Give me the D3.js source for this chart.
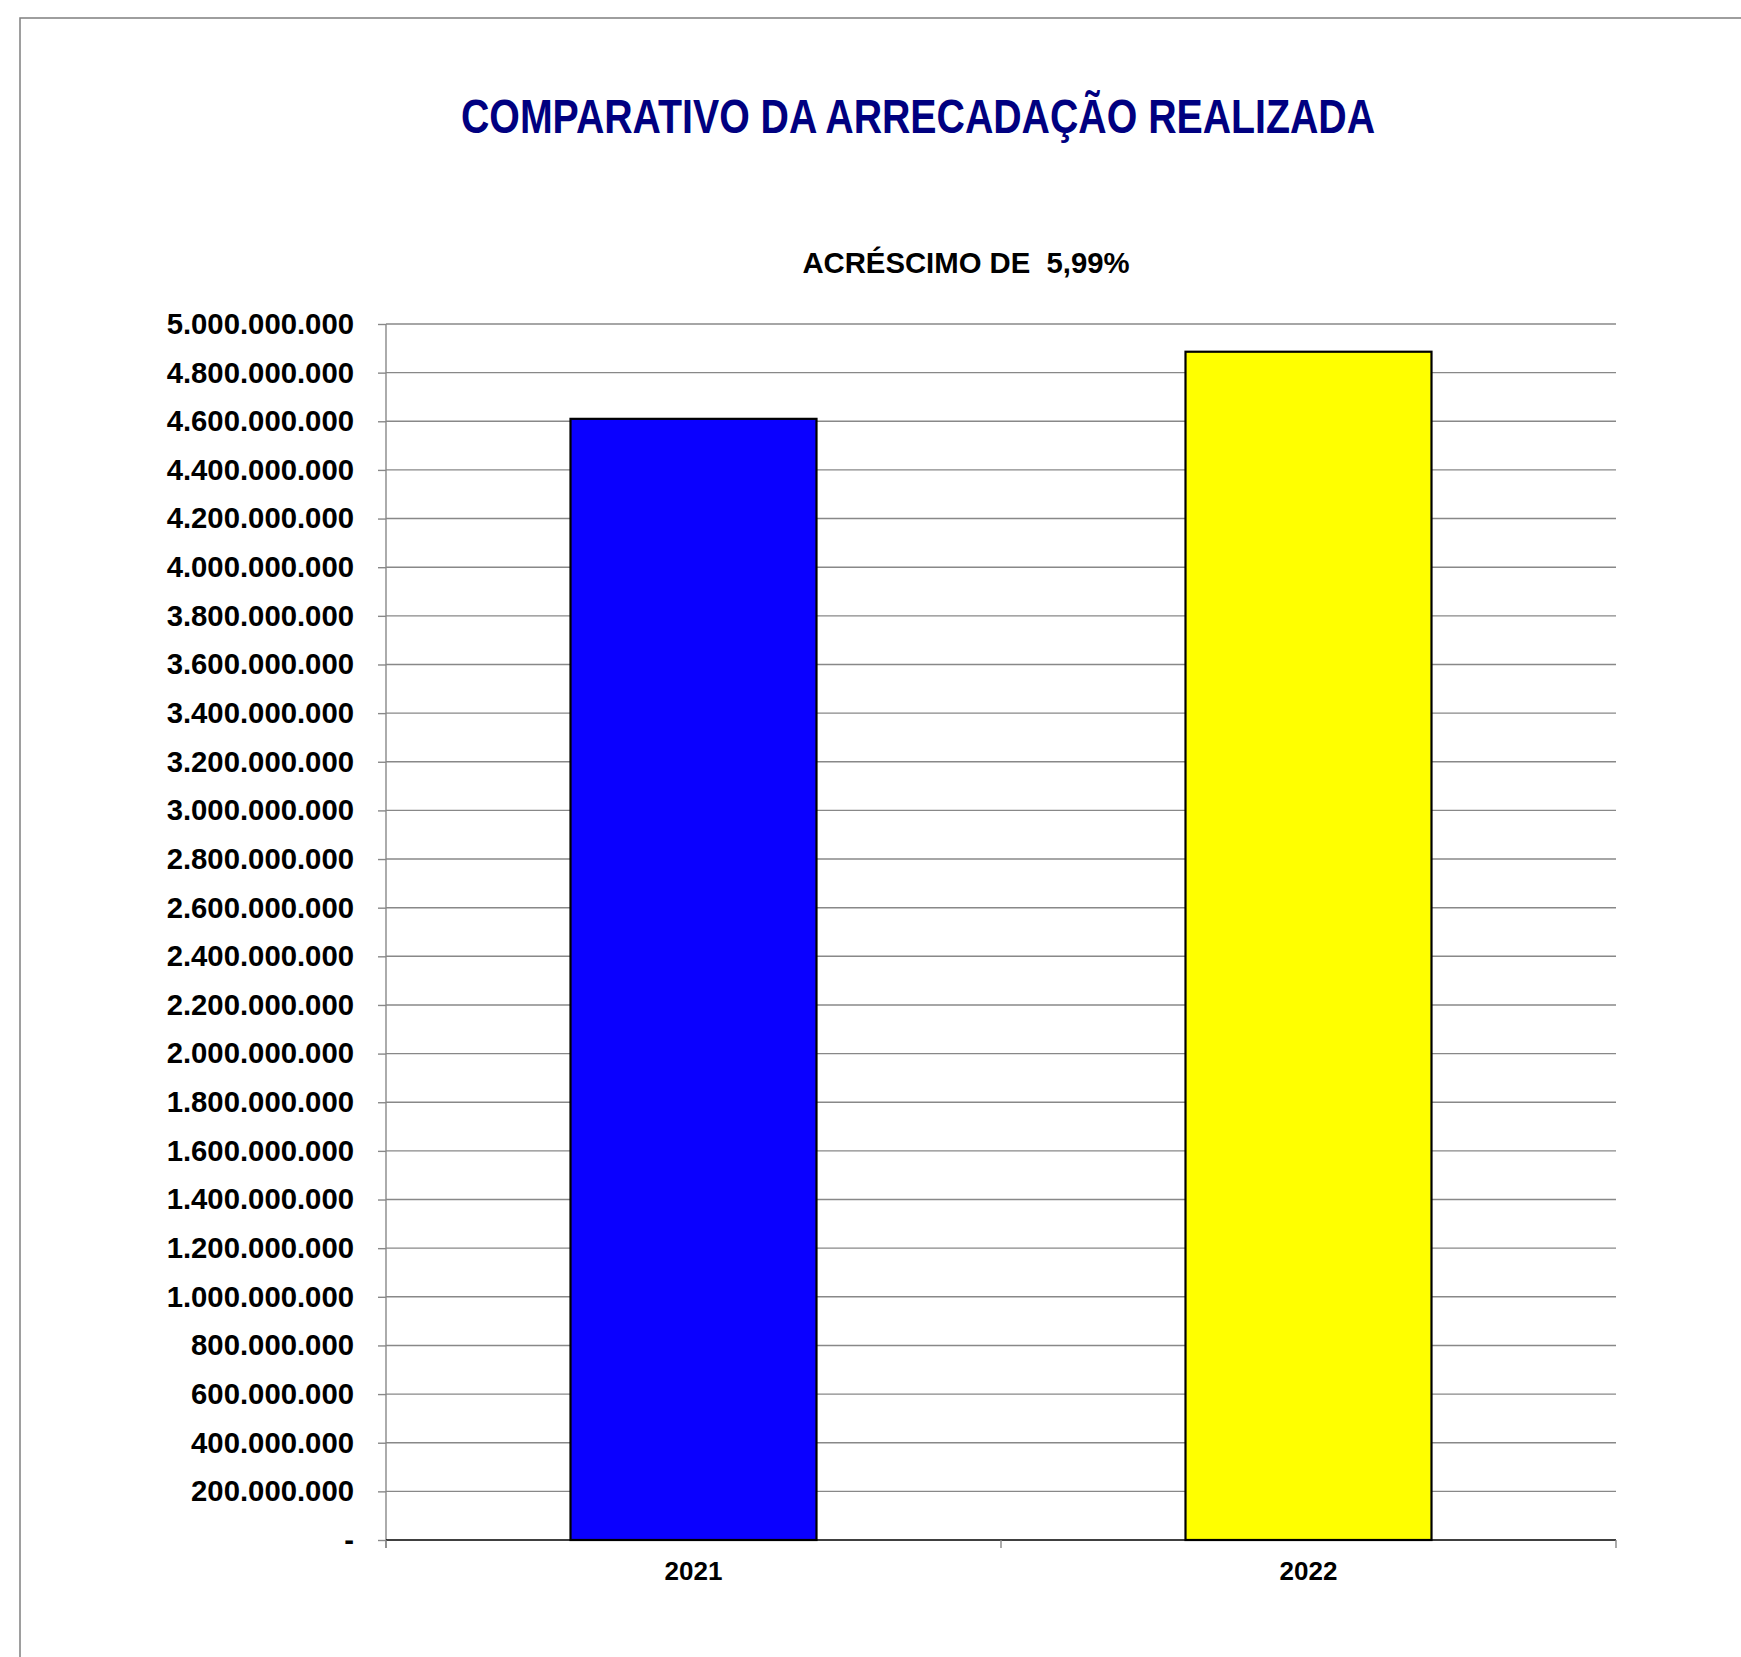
<!DOCTYPE html>
<html><head><meta charset="utf-8">
<script src="https://cdn.jsdelivr.net/npm/d3@7"></script>
<style>
html,body{margin:0;padding:0;background:#fff;}
svg{display:block;}
text{font-family:"Liberation Sans",Arial,sans-serif;font-weight:bold;}
</style></head>
<body>
<svg id="chart" width="1741" height="1657"></svg>
<script>
const categories = ["2021", "2022"];
const values = [4610000000, 4886000000];
const barColors = ["#0a00ff", "#ffff00"];
const yTicks = d3.range(0, 5000000001, 200000000);
const titleText = "COMPARATIVO DA ARRECADAÇÃO REALIZADA";
const subtitleText = "ACRÉSCIMO DE  5,99%";

const svg = d3.select("#chart");
const W = 1741, H = 1657;
const plot = {left: 386, right: 1616, top: 324, bottom: 1540};

svg.append("rect").attr("x", 20).attr("y", 18).attr("width", W).attr("height", H)
  .attr("fill", "none").attr("stroke", "#7f7f7f").attr("stroke-width", 1.5);

svg.append("text").attr("x", 918).attr("y", 133).attr("text-anchor", "middle")
  .attr("fill", "#000080").style("font-family", "'Liberation Sans Narrow','Liberation Sans',Arial,sans-serif")
  .style("font-size", "48px").attr("textLength", 914).attr("lengthAdjust", "spacingAndGlyphs")
  .text(titleText);

svg.append("text").attr("x", 966).attr("y", 273).attr("text-anchor", "middle")
  .attr("fill", "#000").style("font-size", "29.3px").style("white-space", "pre")
  .attr("xml:space", "preserve")
  .text(subtitleText);

const x = d3.scaleBand().domain(categories).range([plot.left, plot.right])
  .paddingInner(0.6).paddingOuter(0.3);
const y = d3.scaleLinear().domain([0, 5000000000]).range([plot.bottom, plot.top]);

const fmt = v => v === 0 ? "-" : d3.format(",")(v).replace(/,/g, ".");

// gridlines
svg.append("g").selectAll("line").data(yTicks.filter(d => d > 0)).join("line")
  .attr("x1", plot.left).attr("x2", plot.right)
  .attr("y1", d => y(d)).attr("y2", d => y(d))
  .attr("stroke", "#888").attr("stroke-width", 1.4);

// y axis
const yAxis = d3.axisLeft(y).tickValues(yTicks).tickSize(8).tickPadding(24).tickFormat(fmt);
const gy = svg.append("g").attr("transform", `translate(${plot.left},0)`).call(yAxis);
gy.select(".domain").attr("stroke", "#888").attr("stroke-width", 1.4)
  .attr("d", `M0,${plot.top}V${plot.bottom + 8}`);
gy.selectAll(".tick line").attr("stroke", "#888").attr("stroke-width", 1.4);
gy.selectAll(".tick text").attr("fill", "#000").style("font-size", "29.3px")
  .style("font-family", "'Liberation Sans',Arial,sans-serif").style("font-weight", "bold");

// bars
svg.append("g").selectAll("rect").data(categories).join("rect")
  .attr("x", d => x(d)).attr("width", x.bandwidth())
  .attr("y", (d, i) => y(values[i])).attr("height", (d, i) => y(0) - y(values[i]))
  .attr("fill", (d, i) => barColors[i]).attr("stroke", "#000").attr("stroke-width", 2.2);

// x axis
const gx = svg.append("g").attr("transform", `translate(0,${plot.bottom})`);
gx.append("line").attr("x1", plot.left).attr("x2", plot.right).attr("y1", 0).attr("y2", 0)
  .attr("stroke", "#000").attr("stroke-width", 1.5);
const xTickPos = [plot.left, (plot.left + plot.right) / 2, plot.right];
gx.selectAll(".xt").data(xTickPos).join("line").attr("class", "xt")
  .attr("x1", d => d).attr("x2", d => d).attr("y1", 0).attr("y2", 8)
  .attr("stroke", "#888").attr("stroke-width", 1.4);
gx.selectAll(".xl").data(categories).join("text").attr("class", "xl")
  .attr("x", d => x(d) + x.bandwidth() / 2).attr("y", 40).attr("text-anchor", "middle")
  .attr("fill", "#000").style("font-size", "26px").text(d => d);
</script>
</body></html>
